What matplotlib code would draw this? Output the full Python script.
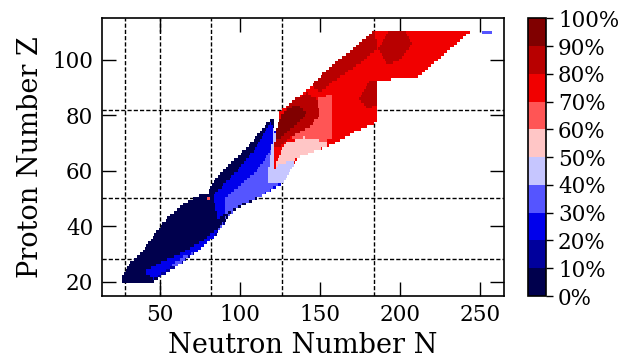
import numpy as np
import matplotlib
matplotlib.use("Agg")
import matplotlib.pyplot as plt
from matplotlib.path import Path

plt.rcParams['font.family'] = 'DejaVu Serif'

# magic numbers marked by dashed guide lines
magic_N = [28, 50, 82, 126, 184]
magic_Z = [28, 50, 82]

# region outlines in (N, Z) and the share in % given to the nuclei inside,
# painted in this order (later regions overwrite earlier ones)
blue_N = [26.5, 26.5, 32, 40, 47, 55, 63, 72, 80, 83, 91, 100, 106, 112, 118, 121,
          122.5, 126.5, 127, 123, 115, 104, 95, 90, 84, 74, 62, 52, 46]
blue_Z = [19.5, 22.5, 27.5, 31.5, 37.5, 43.5, 47.5, 50.5, 52, 56, 61, 66, 69.5, 74, 78, 78.5,
          70, 66, 60, 55, 51.5, 48, 45, 41, 36, 31, 27, 23.5, 19.5]

sideA_N = [58, 70, 80, 88, 90, 84, 74, 62, 52, 47]
sideA_Z = [24.5, 29.5, 34.5, 40, 41, 36, 31, 27, 23.5, 21]

streakA_N = [40, 52, 64, 76, 86, 88, 84, 74, 62, 52, 46]
streakA_Z = [23.5, 27.5, 30.5, 34.5, 39, 40, 36, 31, 27, 23.5, 20.5]

speckA_N = [56, 66, 70, 62]
speckA_Z = [25.5, 29.5, 30, 26]

edgeA_N = [86, 92, 100, 96, 90, 87]
edgeA_Z = [39, 44, 47.5, 45.5, 42, 38.5]

midB_N = [83, 98, 108, 114, 119, 126, 126, 110, 95, 86]
midB_Z = [51, 60, 67, 73, 77.5, 70, 55, 50, 46.5, 42]

lightB_N = [90, 111, 119, 122, 126, 126, 113.5, 100, 90]
lightB_Z = [50, 60.3, 67.5, 72, 68, 56, 51, 47.5, 44]

paleB_N = [117, 119.6, 121, 123, 127, 127, 122, 118]
paleB_Z = [58, 67.5, 75, 72, 66, 58, 55, 55]

spot_N = [79.5, 79.5, 81.5, 81.5]
spot_Z = [49.5, 50.5, 50.5, 49.5]

red_N = [121.5, 122, 125, 130, 136, 145, 150, 155, 160, 165.6, 171, 176, 180, 184, 245,
         228, 211, 187.5, 185.6, 185.6, 172, 157, 147, 136, 132, 128, 126, 124, 122]
red_Z = [66, 69.3, 81.4, 84, 86.3, 91, 94, 97, 99.5, 101.8, 104, 106.6, 108.5, 110.5, 110.5,
         102, 93.5, 92.8, 92.8, 77.7, 74, 69.3, 67, 64.6, 61, 57, 55, 55.5, 60]

salmon_N = [140, 157.5, 157.5, 150, 140, 132]
salmon_Z = [84, 88, 72, 69, 68, 72]

pink_N = [122, 128, 140, 150, 157, 147, 136, 128, 122]
pink_Z = [62, 70, 72, 71, 69.5, 67, 64.6, 60, 58]

paleR_N = [122, 123, 128, 134, 130, 126]
paleR_Z = [55.5, 62, 63, 63, 58, 55]

hotR_N = [121.5, 124, 130, 136, 142, 148, 150, 144, 132, 124]
hotR_Z = [69, 78, 84, 86.5, 88, 86, 80, 76, 72, 68]

peakR_N = [122, 123, 126, 132, 138, 142, 138, 132, 126]
peakR_Z = [71, 76, 80.5, 83, 83, 81, 78, 75, 72]

ridge_N = [145, 155, 165.6, 176, 184, 186, 178, 168, 158, 150]
ridge_Z = [91, 97, 101.8, 106.6, 110.5, 104, 100, 96, 92, 88]

cap_N = [186, 193, 203, 208, 200, 192]
cap_Z = [104, 110.5, 110.5, 106, 100, 98]

knot_N = [174, 180, 185.6, 185.6, 180]
knot_Z = [86, 92, 92.8, 84, 82]

tail_N = [251.5, 251.5, 257.5, 257.5]
tail_Z = [109.5, 110.5, 110.5, 109.5]

regions = [
    (blue_N, blue_Z, 5), (sideA_N, sideA_Z, 15), (streakA_N, streakA_Z, 25),
    (speckA_N, speckA_Z, 35), (edgeA_N, edgeA_Z, 35), (midB_N, midB_Z, 25),
    (lightB_N, lightB_Z, 35), (paleB_N, paleB_Z, 45), (spot_N, spot_Z, 65),
    (red_N, red_Z, 75), (salmon_N, salmon_Z, 65), (pink_N, pink_Z, 55),
    (paleR_N, paleR_Z, 45), (hotR_N, hotR_Z, 85), (peakR_N, peakR_Z, 95),
    (ridge_N, ridge_Z, 85), (cap_N, cap_Z, 85), (knot_N, knot_Z, 85),
    (tail_N, tail_Z, 35),
]

# one cell per nucleus on the integer (N, Z) grid
N_cells = np.arange(0, 271)
Z_cells = np.arange(0, 121)
NN, ZZ = np.meshgrid(N_cells, Z_cells)
centers = np.column_stack([NN.ravel(), ZZ.ravel()])
share = np.full(NN.shape, np.nan)
for n_pts, z_pts, val in regions:
    inside = Path(np.column_stack([n_pts, z_pts])).contains_points(centers)
    share[inside.reshape(NN.shape)] = val

fig = plt.figure(figsize=(6.25, 3.62), dpi=100)
ax = fig.add_axes([0.1627, 0.1823, 0.6442, 0.7671])
cax = fig.add_axes([0.845, 0.1823, 0.029, 0.7671])

cmap = plt.get_cmap('seismic', 10)
mesh = ax.pcolormesh(np.append(N_cells, 271) - 0.5, np.append(Z_cells, 121) - 0.5,
                     np.ma.masked_invalid(share), cmap=cmap, vmin=0, vmax=100, zorder=2)

for n in magic_N:
    ax.axvline(n, color='k', lw=1.0, ls=(0, (3, 1.5)), zorder=1)
for z in magic_Z:
    ax.axhline(z, color='k', lw=1.0, ls=(0, (3, 1.5)), zorder=1)

ax.set_xlim(13.6, 265.2)
ax.set_ylim(14.8, 115)
ax.set_xticks([50, 100, 150, 200, 250])
ax.set_yticks([20, 40, 60, 80, 100])
ax.tick_params(direction='in', length=10, width=1, top=True, right=True,
               labelsize=15.5, pad=6)
for sp in ax.spines.values():
    sp.set_linewidth(1.2)
ax.set_xlabel('Neutron Number N', fontsize=19.5, labelpad=4)
ax.set_ylabel('Proton Number Z', fontsize=19.5, labelpad=6)

cb = fig.colorbar(mesh, cax=cax, ticks=np.arange(0, 101, 10))
cb.ax.set_yticklabels([f'{t}%' for t in range(0, 101, 10)])
cb.ax.tick_params(labelsize=15.5, length=5, width=1)
cb.outline.set_linewidth(1.2)

fig.savefig('out.png', dpi=100)
